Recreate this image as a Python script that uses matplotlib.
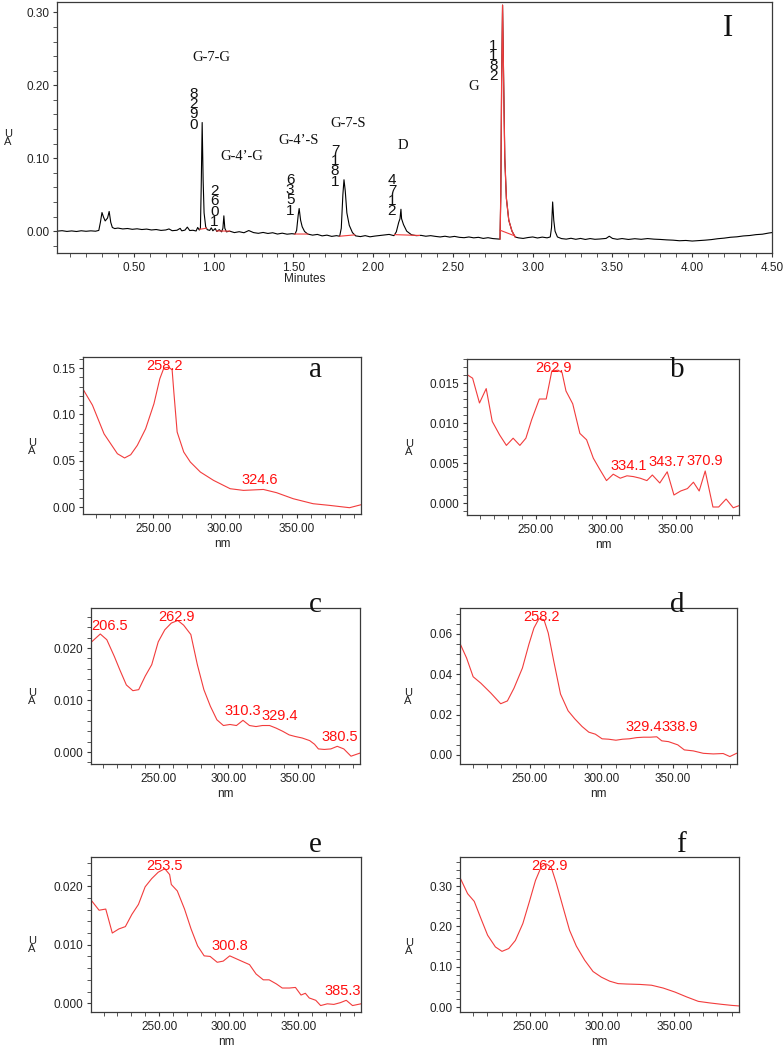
import numpy as np
import matplotlib.pyplot as plt
from matplotlib.ticker import MultipleLocator, FormatStrFormatter

plt.rcParams.update({
    "font.family": ["Liberation Sans", "DejaVu Sans"],
    "font.size": 8.5,
    "axes.linewidth": 0.9,
    "axes.edgecolor": "#3a3a3a",
    "xtick.color": "#3a3a3a",
    "ytick.color": "#3a3a3a",
    "xtick.labelcolor": "#222222",
    "ytick.labelcolor": "#222222",
    "xtick.direction": "out",
    "ytick.direction": "out",
    "xtick.major.size": 3,
    "xtick.minor.size": 3,
    "ytick.major.size": 3,
    "ytick.minor.size": 2.5,
    "xtick.major.pad": 3.5,
    "ytick.major.pad": 2.5,
})

W, H = 784, 1050
RED_LINE = "#f23c3c"
RED_TEXT = "#ff1010"
SERIF = ["Liberation Serif", "DejaVu Serif"]

# ---- chromatogram (minutes, AU) ----
TIME = [
    0.02, 0.05, 0.08, 0.11, 0.14, 0.17, 0.20, 0.23, 0.26, 0.28,
    0.29, 0.30, 0.31, 0.32, 0.335, 0.345, 0.355, 0.365, 0.38, 0.40,
    0.43, 0.46, 0.49, 0.52, 0.55, 0.58, 0.61, 0.64, 0.67, 0.70,
    0.72, 0.74, 0.77, 0.79, 0.80, 0.82, 0.835, 0.85, 0.87, 0.89,
    0.90, 0.91, 0.917, 0.922, 0.928, 0.934, 0.94, 0.95, 0.96, 0.975,
    0.985, 0.995, 1.01, 1.02, 1.035, 1.05, 1.058, 1.064, 1.07, 1.08,
    1.10, 1.13, 1.16, 1.19, 1.22, 1.25, 1.28, 1.31, 1.34, 1.37,
    1.40, 1.43, 1.46, 1.49, 1.51, 1.52, 1.53, 1.536, 1.545, 1.555,
    1.57, 1.59, 1.62, 1.65, 1.68, 1.71, 1.74, 1.77, 1.79, 1.80,
    1.81, 1.817, 1.825, 1.835, 1.85, 1.87, 1.89, 1.92, 1.95, 1.98,
    2.01, 2.04, 2.07, 2.10, 2.13, 2.145, 2.16, 2.168, 2.174, 2.178,
    2.19, 2.21, 2.24, 2.27, 2.30, 2.33, 2.36, 2.39, 2.42, 2.45,
    2.48, 2.51, 2.54, 2.57, 2.60, 2.63, 2.66, 2.69, 2.72, 2.75,
    2.78, 2.795, 2.80, 2.805, 2.811, 2.818, 2.825, 2.835, 2.85, 2.87,
    2.89, 2.91, 2.94, 2.97, 3.00, 3.03, 3.06, 3.09, 3.11, 3.118,
    3.125, 3.132, 3.14, 3.155, 3.18, 3.21, 3.24, 3.27, 3.30, 3.33,
    3.36, 3.39, 3.42, 3.46, 3.48, 3.50, 3.53, 3.56, 3.60, 3.64,
    3.68, 3.72, 3.76, 3.80, 3.84, 3.88, 3.92, 3.96, 4.00, 4.04,
    4.08, 4.12, 4.16, 4.20, 4.24, 4.28, 4.32, 4.36, 4.40, 4.44,
    4.48, 4.50,
]
SIGNAL = [
    0.0000, 0.0006, -0.0004, 0.0003, -0.0005, 0.0005, -0.0002, 0.0004, -0.0001, 0.0010,
    0.0120, 0.0255, 0.0190, 0.0140, 0.0180, 0.0270, 0.0120, 0.0050, 0.0035, 0.0042,
    0.0030, 0.0036, 0.0025, 0.0032, 0.0022, 0.0028, 0.0016, 0.0022, 0.0010, 0.0016,
    0.0030, 0.0006, 0.0012, 0.0038, 0.0004, 0.0014, 0.0055, 0.0008, 0.0012, 0.0002,
    0.0050, 0.0015, 0.0040, 0.0600, 0.1490, 0.0700, 0.0250, 0.0060, 0.0020, 0.0010,
    0.0045, 0.0005, 0.0035, -0.0005, 0.0020, -0.0010, 0.0040, 0.0210, 0.0040, -0.0010,
    0.0000, -0.0020, -0.0008, -0.0022, 0.0008, -0.0020, -0.0030, -0.0018, -0.0032, -0.0022,
    -0.0040, -0.0028, -0.0042, -0.0035, -0.0040, 0.0010, 0.0220, 0.0310, 0.0150, 0.0060,
    -0.0005, -0.0040, -0.0055, -0.0045, -0.0065, -0.0055, -0.0072, -0.0062, -0.0070, 0.0040,
    0.0500, 0.0705, 0.0550, 0.0250, 0.0080, -0.0020, -0.0065, -0.0075, -0.0062, -0.0078,
    -0.0068, -0.0060, -0.0052, -0.0045, -0.0062, -0.0010, 0.0120, 0.0170, 0.0300, 0.0170,
    0.0090, 0.0000, -0.0050, -0.0062, -0.0058, -0.0070, -0.0062, -0.0072, -0.0080, -0.0070,
    -0.0082, -0.0072, -0.0085, -0.0090, -0.0080, -0.0092, -0.0085, -0.0100, -0.0090, -0.0102,
    -0.0108, -0.0110, 0.0500, 0.2000, 0.3100, 0.2000, 0.1000, 0.0450, 0.0150, 0.0000,
    -0.0080, -0.0092, -0.0100, -0.0088, -0.0080, -0.0094, -0.0082, -0.0092, -0.0080, 0.0050,
    0.0400, 0.0150, 0.0000, -0.0080, -0.0102, -0.0110, -0.0098, -0.0112, -0.0100, -0.0114,
    -0.0102, -0.0112, -0.0108, -0.0100, -0.0070, -0.0100, -0.0112, -0.0102, -0.0114, -0.0104,
    -0.0112, -0.0102, -0.0110, -0.0114, -0.0120, -0.0124, -0.0132, -0.0128, -0.0136, -0.0130,
    -0.0124, -0.0116, -0.0104, -0.0096, -0.0084, -0.0078, -0.0066, -0.0060, -0.0048, -0.0042,
    -0.0026, -0.0020,
]
RETENTION_TIMES = [0.928, 1.062, 1.536, 1.817, 2.174, 2.811]
BASELINE_WINDOWS = [(0.913, 0.955), (1.018, 1.10), (1.508, 1.59),
                    (1.79, 1.884), (2.134, 2.29), (2.796, 2.886)]
RED_PEAK_WINDOW = (2.795, 2.89)
COMPOUND_NAMES = ["G-7-G", "G-4\u2019-G", "G-4\u2019-S", "G-7-S", "D", "G"]
# text anchors (minutes, AU) for the compound names
COMPOUND_POS = [(0.986, 0.233), (1.175, 0.098), (1.532, 0.120),
                (1.846, 0.143), (2.184, 0.112), (2.633, 0.193)]

# ---- UV spectra (nm, AU) ----
A_NM = [201.5, 207.6, 215.7, 225, 230, 234.3, 238.9, 244.7, 250.5, 254.6,
        257.4, 260.9, 263.2, 264.4, 266.7, 271.3, 275.9, 282.9, 292.1, 303.7,
        313, 326.9, 336.1, 347.7, 361.6, 373.1, 387, 395]
A_AU = [0.126, 0.110, 0.079, 0.0576, 0.053, 0.0565, 0.0666, 0.0845, 0.1115, 0.1385,
        0.150, 0.151, 0.148, 0.124, 0.081, 0.0594, 0.0486, 0.0378, 0.0288, 0.0198,
        0.018, 0.019, 0.0155, 0.009, 0.0036, 0.0018, -0.0007, 0.0025]
A_PEAKS = [258.2, 324.6]

B_NM = [201, 205, 209.9, 214.7, 219, 224.3, 229.1, 233.9, 238.7, 243,
        247.1, 252.6, 257.5, 261.5, 265.9, 268.8, 271.6, 276.4, 281.5, 286.3,
        291.1, 295.7, 300.5, 305.3, 310.3, 315.1, 319.7, 324.5, 329.3, 333.2,
        338.5, 343.8, 348.6, 353.4, 358.2, 362.5, 366.6, 370.9, 376.4, 380.5,
        385.8, 390.9, 395.5]
B_AU = [0.01605, 0.0156, 0.0125, 0.0143, 0.0102, 0.0085, 0.0072, 0.0081, 0.0072, 0.0081,
        0.0104, 0.0130, 0.0130, 0.0165, 0.0166, 0.0163, 0.0140, 0.0124, 0.0087, 0.0079,
        0.0056, 0.0042, 0.0028, 0.0036, 0.0031, 0.0034, 0.0033, 0.0031, 0.0028, 0.0035,
        0.0025, 0.0039, 0.0010, 0.0015, 0.0018, 0.0026, 0.0015, 0.0040, -0.0005, -0.0005,
        0.0005, -0.0006, -0.0003]
B_PEAKS = [262.9, 334.1, 343.7, 370.9]

C_NM = [201.5, 207.7, 212.4, 217.8, 221.8, 226.5, 231.2, 235.4, 240.1, 244.8,
        249.5, 254.2, 258.9, 263.6, 267.8, 273, 277.7, 282.4, 287.1, 291.8,
        296.5, 301.2, 305.9, 310.6, 315.3, 320, 324.6, 329.8, 334.5, 339.2,
        343.9, 348.1, 353.3, 358.7, 362.2, 365, 369.2, 374, 378.6, 383.3,
        388.5, 395]
C_AU = [0.0212, 0.0227, 0.0216, 0.0184, 0.0158, 0.0129, 0.0118, 0.0120, 0.0146, 0.0168,
        0.0212, 0.0235, 0.0248, 0.0253, 0.0244, 0.0226, 0.0168, 0.0120, 0.0088, 0.0062,
        0.0051, 0.0053, 0.0051, 0.0061, 0.0051, 0.0049, 0.0051, 0.0051, 0.0046, 0.0040,
        0.0033, 0.0030, 0.0027, 0.0022, 0.0015, 0.0006, 0.0005, 0.0006, 0.0011, 0.0006,
        -0.0008, -0.0002]
C_PEAKS = [206.5, 262.9, 310.3, 329.4, 380.5]

D_NM = [201.2, 205.6, 210.2, 215.6, 222.6, 229.5, 234.2, 238.8, 244.7, 249.3,
        252.8, 256.3, 259.8, 262.8, 266.7, 271.4, 276.7, 281.4, 286.5, 291.2,
        295.8, 300.5, 305.1, 310.2, 314.9, 319.5, 324.9, 329.5, 334.2, 338.8,
        342.3, 347, 353.5, 358.1, 364.4, 371.4, 378.4, 385.3, 390, 394.7]
D_AU = [0.0550, 0.0481, 0.0388, 0.0356, 0.0307, 0.0254, 0.0268, 0.0331, 0.0431, 0.0550,
        0.0630, 0.0676, 0.0671, 0.0605, 0.0464, 0.0302, 0.0219, 0.0179, 0.0141, 0.0113,
        0.0103, 0.0080, 0.0078, 0.0073, 0.0078, 0.0080, 0.0086, 0.0088, 0.0088, 0.0090,
        0.0070, 0.0066, 0.0050, 0.0025, 0.0020, 0.0008, 0.0005, 0.0007, -0.0008, 0.0008]
D_PEAKS = [258.2, 329.4, 338.9]

E_NM = [201.5, 206.8, 211.6, 216.3, 221, 225.7, 230.4, 235.1, 239.9, 244.6,
        249.3, 254, 257.5, 258.7, 263, 268.2, 272.9, 277.6, 282.3, 286.6,
        291.7, 296, 300.7, 305.4, 310.1, 314.9, 319.6, 324.8, 329, 334.2,
        338.4, 343.6, 347.9, 351.9, 355, 357.8, 362.5, 366, 370.8, 375.5,
        380.2, 384.4, 388.9, 395]
E_AU = [0.0175, 0.0159, 0.0161, 0.0120, 0.0127, 0.0131, 0.0152, 0.0169, 0.0199, 0.0213,
        0.0224, 0.0230, 0.0220, 0.0203, 0.0192, 0.0161, 0.0127, 0.0098, 0.0081, 0.0080,
        0.0070, 0.0072, 0.0081, 0.0076, 0.0071, 0.0066, 0.0050, 0.0040, 0.0040, 0.0033,
        0.0026, 0.0026, 0.0027, 0.0014, 0.0017, 0.0009, 0.0005, -0.0004, -0.0001, -0.0002,
        0.0001, 0.0005, -0.0004, -0.0001]
E_PEAKS = [253.5, 300.8, 385.3]

F_NM = [201.6, 206.3, 210.9, 215.6, 220.2, 225.6, 230.2, 234.9, 239.5, 244.7,
        249.3, 253.5, 257.4, 260.9, 264.4, 267.9, 272.6, 277.2, 281.9, 287.7,
        293.5, 299.3, 305.1, 310.9, 316.7, 326, 334.2, 342.3, 350.5, 358.6,
        366.7, 374.9, 383, 390, 395.5]
F_AU = [0.3165, 0.281, 0.262, 0.219, 0.178, 0.149, 0.138, 0.145, 0.165, 0.207,
        0.262, 0.314, 0.347, 0.355, 0.347, 0.308, 0.248, 0.190, 0.151, 0.116,
        0.088, 0.074, 0.064, 0.058, 0.057, 0.056, 0.054, 0.047, 0.037, 0.025,
        0.014, 0.010, 0.0066, 0.004, 0.0025]
F_PEAKS = [262.9]

# layout (pixel rects: left, top, right, bottom), axis scales, label spots
PANELS = [
    dict(name="a", nm=A_NM, au=A_AU, peaks=A_PEAKS, rect=(83, 357, 361, 514),
         ylim=(-0.0075, 0.162), major=0.05, minor=0.01, fmt="%.2f",
         letter=(316, 377), ua=(32, 447), nudge={}),
    dict(name="b", nm=B_NM, au=B_AU, peaks=B_PEAKS, rect=(467, 359, 739, 515),
         ylim=(-0.0015, 0.018), major=0.005, minor=0.001, fmt="%.3f",
         letter=(677, 377), ua=(409, 448), nudge={334.1: -25}),
    dict(name="c", nm=C_NM, au=C_AU, peaks=C_PEAKS, rect=(91, 608, 360, 764),
         ylim=(-0.0023, 0.0277), major=0.010, minor=0.002, fmt="%.3f",
         letter=(315, 612), ua=(32, 697), nudge={329.4: 11}),
    dict(name="d", nm=D_NM, au=D_AU, peaks=D_PEAKS, rect=(460, 608, 737, 764),
         ylim=(-0.0045, 0.0729), major=0.02, minor=0.005, fmt="%.2f",
         letter=(677, 612), ua=(408, 697), nudge={338.9: 23}),
    dict(name="e", nm=E_NM, au=E_AU, peaks=E_PEAKS, rect=(91, 857, 361, 1012),
         ylim=(-0.0015, 0.025), major=0.010, minor=0.002, fmt="%.3f",
         letter=(315, 852), ua=(32, 945), nudge={}),
    dict(name="f", nm=F_NM, au=F_AU, peaks=F_PEAKS, rect=(460, 857, 739, 1012),
         ylim=(-0.0124, 0.372), major=0.1, minor=0.02, fmt="%.2f",
         letter=(681, 852), ua=(409, 947), nudge={}),
]


def add_axes_px(fig, left, top, right, bottom):
    return fig.add_axes([left / W, 1 - bottom / H, (right - left) / W, (bottom - top) / H])


def fig_text_px(fig, x, y, s, **kw):
    return fig.text(x / W, 1 - y / H, s, **kw)


def style_ticks(ax):
    ax.tick_params(which="both", top=False, right=False)
    ax.tick_params(which="minor", length=3)


def draw_chromatogram(fig, renderer):
    ax = add_axes_px(fig, 57, 1.5, 772, 253)
    t = np.array(TIME)
    s = np.array(SIGNAL)
    ax.plot(t, s, color="black", lw=0.8, zorder=2)
    m = (t >= RED_PEAK_WINDOW[0]) & (t <= RED_PEAK_WINDOW[1])
    ax.plot(t[m], s[m], color=RED_LINE, lw=0.9, zorder=3)
    for a, b in BASELINE_WINDOWS:
        ax.plot([a, b], np.interp([a, b], t, s), color=RED_LINE, lw=0.8, zorder=3)

    ax.set_xlim(0.018, 4.5)
    ax.set_ylim(-0.030, 0.315)
    ax.xaxis.set_major_locator(MultipleLocator(0.5))
    ax.xaxis.set_minor_locator(MultipleLocator(0.1))
    ax.yaxis.set_major_locator(MultipleLocator(0.1))
    ax.yaxis.set_minor_locator(MultipleLocator(0.02))
    ax.xaxis.set_major_formatter(FormatStrFormatter("%.2f"))
    ax.yaxis.set_major_formatter(FormatStrFormatter("%.2f"))
    style_ticks(ax)
    fig_text_px(fig, 305, 282, "Minutes", ha="center", va="baseline",
                fontsize=8.5, color="#222222")
    fig_text_px(fig, 8, 138, "U\nA", ha="center", va="center", fontsize=8,
                linespacing=0.85, color="#222222")

    # retention-time labels, digits stacked upright
    inv = ax.transAxes.inverted()
    top_px = ax.transAxes.transform((0, 1))[1]
    for rt in RETENTION_TIMES:
        apex = np.interp(rt, t, s)
        px, py = ax.transData.transform((rt, apex))
        digits = f"{rt:.3f}".replace(".", "")[::-1]
        txt = ax.text(0, 0, "\n".join(digits), ha="center", va="bottom",
                      fontsize=11, linespacing=0.66, transform=ax.transAxes,
                      color="#111111")
        h = txt.get_window_extent(renderer).height
        y = min(py - 9, top_px - 37 - h)
        txt.set_position(inv.transform((px - 9, y)))

    for name, (x, y) in zip(COMPOUND_NAMES, COMPOUND_POS):
        ax.text(x, y, name, ha="center", va="baseline", fontsize=10.5,
                family=SERIF, color="#111111")
    ax.text(4.226, 0.267, "I", ha="center", va="baseline", fontsize=22,
            family=SERIF, color="#111111")


def draw_spectrum(fig, renderer, p):
    ax = add_axes_px(fig, *p["rect"])
    nm = np.array(p["nm"])
    au = np.array(p["au"])
    ax.plot(nm, au, color=RED_LINE, lw=0.8)
    ax.set_xlim(201, 395)
    ax.set_ylim(*p["ylim"])
    ax.xaxis.set_major_locator(MultipleLocator(50))
    ax.xaxis.set_minor_locator(MultipleLocator(10))
    ax.yaxis.set_major_locator(MultipleLocator(p["major"]))
    ax.yaxis.set_minor_locator(MultipleLocator(p["minor"]))
    ax.xaxis.set_major_formatter(FormatStrFormatter("%.2f"))
    ax.yaxis.set_major_formatter(FormatStrFormatter(p["fmt"]))
    style_ticks(ax)
    left, top, right, bottom = p["rect"]
    fig_text_px(fig, (left + right) / 2, bottom + 33, "nm", ha="center",
                va="baseline", fontsize=8.5, color="#222222")

    fig_text_px(fig, p["ua"][0], p["ua"][1], "U\nA", ha="center", va="center",
                fontsize=8, linespacing=0.85, color="#222222")
    fig_text_px(fig, p["letter"][0], p["letter"][1], p["name"], ha="center",
                va="baseline", fontsize=21, family=SERIF, color="#111111")

    # peak wavelength labels, kept inside the frame
    inv = ax.transAxes.inverted()
    (x0, y0), (x1, y1) = ax.transAxes.transform([(0, 0), (1, 1)])
    for pk in p["peaks"]:
        px, py = ax.transData.transform((pk, np.interp(pk, nm, au)))
        txt = ax.text(0, 0, f"{pk:.1f}", ha="center", va="center", fontsize=10.5,
                      color=RED_TEXT, transform=ax.transAxes, clip_on=False)
        w = txt.get_window_extent(renderer).width
        cx = px + p["nudge"].get(pk, 0)
        cx = min(max(cx, x0 + w / 2), x1 - w / 2)
        cy = min(py + 10, y1 - 9)
        txt.set_position(inv.transform((cx, cy)))


def main():
    fig = plt.figure(figsize=(W / 100, H / 100), dpi=100)
    renderer = fig.canvas.get_renderer()
    draw_chromatogram(fig, renderer)
    for p in PANELS:
        draw_spectrum(fig, renderer, p)
    fig.savefig("out.png", dpi=100)
    plt.close(fig)


if __name__ == "__main__":
    main()
